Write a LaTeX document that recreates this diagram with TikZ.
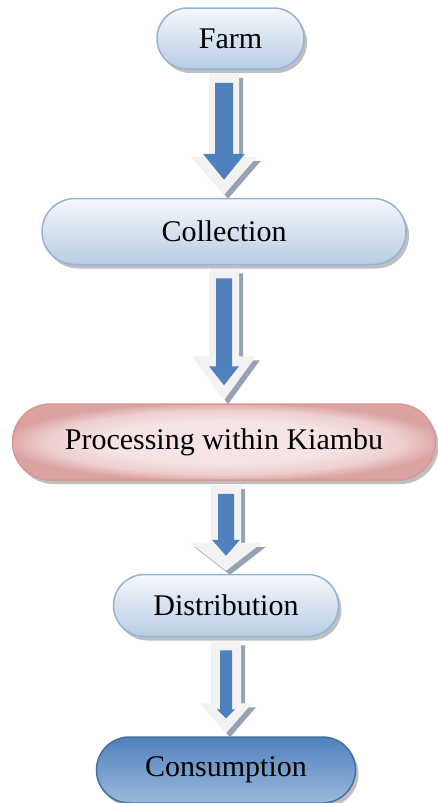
\documentclass[tikz,border=0pt]{standalone}
\usepackage{fontspec}
\setmainfont{Liberation Serif}
\usetikzlibrary{shapes.misc, positioning, calc, shadows}

\definecolor{paleedge}{HTML}{95B3D7}
\definecolor{paletop}{HTML}{F5F8FC}
\definecolor{palebot}{HTML}{B8CCE4}
\definecolor{pinkedge}{HTML}{D99694}
\definecolor{pinkin}{HTML}{F5E4E3}
\definecolor{pinkmid}{HTML}{EDCFCE}
\definecolor{pinkout}{HTML}{DBA3A2}
\definecolor{deepedge}{HTML}{41709F}
\definecolor{deeptop}{HTML}{4F81BD}
\definecolor{deepbot}{HTML}{9CB9DC}
\definecolor{arrowblue}{HTML}{4F81BD}
\definecolor{arrowshell}{HTML}{F2F2F2}
\definecolor{arrowshade}{HTML}{97A3B4}

\pgfdeclareradialshading{pinkglow}{\pgfpoint{0bp}{0bp}}{%
    color(0bp)=(pinkin); color(14bp)=(pinkin); color(21bp)=(pinkmid); color(26bp)=(pinkout); color(50bp)=(pinkout)}

\tikzset{
    base/.style={rounded rectangle, line width=1.5pt, font=\fontsize{30}{36}\selectfont, inner sep=0pt,
        drop shadow={shadow xshift=3pt, shadow yshift=-4pt, fill=black!50, opacity=0.5}},
    palebox/.style={base, draw=paleedge, top color=paletop, bottom color=palebot},
    pinkbox/.style={base, draw=pinkedge, shading=pinkglow},
    deepbox/.style={base, draw=deepedge, top color=deeptop, bottom color=deepbot}
}

% outline of a block arrow between the points #1 and #2
\newcommand{\shell}[4]{([shift={(-15,4)}]#1) -- ([shift={(15,4)}]#1) -- ([shift={(15,-3-#4)}]#2) -- ([shift={(#3,-3-#4)}]#2) -- ([shift={(0,-3)}]#2) -- ([shift={(-#3,-3-#4)}]#2) -- ([shift={(-15,-3-#4)}]#2) -- cycle}

% from, to, head half width, head length, inner shaft, inner head, inner head length
\newcommand{\flowarrow}[7]{%
    \path let \p1=(#1.south), \p2=(#2.north) in
        coordinate (t) at (\x2,\y1) coordinate (b) at (\x2,\y2)
        coordinate (ts) at ([shift={(4,4)}]\x2,\y1) coordinate (bs) at ([shift={(4,4)}]\x2,\y2);
    \fill[arrowshade] \shell{ts}{bs}{#3}{#4};
    \fill[arrowshell] \shell{t}{b}{#3}{#4};
    \fill[arrowblue] ([shift={(-#5,13)}]t) -- ([shift={(#5,13)}]t) -- ([shift={(#5,-18-#7)}]b) -- ([shift={(#6,-18-#7)}]b)
        -- ([shift={(0,-18)}]b) -- ([shift={(-#6,-18-#7)}]b) -- ([shift={(-#5,-18-#7)}]b) -- cycle;
}

\begin{document}
\begin{tikzpicture}[x=1pt, y=-1pt]
    \useasboundingbox (0,0) rectangle (438,803);

    \node [palebox, minimum width=147pt, minimum height=61pt] (farm) at (230.5,38.5) {Farm};
    \node [palebox, minimum width=364pt, minimum height=66pt, below=128pt of farm, xshift=-6.5pt] (collection) {Collection};
    \node [pinkbox, minimum width=423pt, minimum height=76pt, below=138pt of collection] (processing) {Processing within Kiambu};
    \node [palebox, minimum width=225pt, minimum height=62pt, below=93pt of processing, xshift=2pt] (distribution) {Distribution};
    \node [deepbox, minimum width=259pt, minimum height=66pt, below=99pt of distribution] (consumption) {Consumption};

    \flowarrow{farm}{collection}{33}{38}{9}{21}{26}
    \flowarrow{collection}{processing}{32}{44}{8}{15}{19}
    \flowarrow{processing}{distribution}{36}{28}{8}{14}{16}
    \flowarrow{distribution}{consumption}{26}{30}{6}{9}{9}
\end{tikzpicture}
\end{document}
